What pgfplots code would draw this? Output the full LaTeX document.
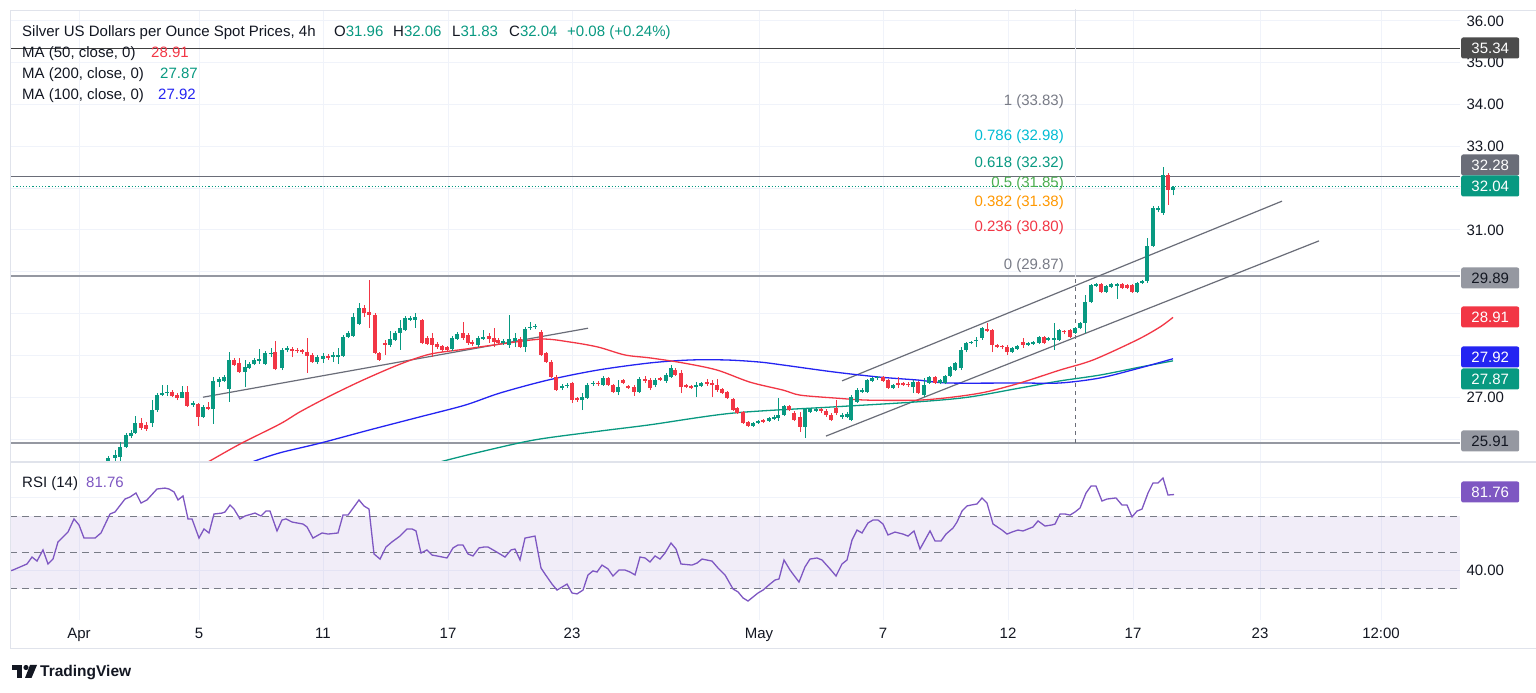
\documentclass[border=0pt]{standalone}
\usepackage{pgfplots}
\usepackage{pgfplotstable}
\pgfplotsset{compat=1.18}
\usepackage{fontspec}
\setmainfont{Liberation Sans}
\definecolor{upc}{HTML}{089981}
\definecolor{dnc}{HTML}{F23645}
\definecolor{txt}{HTML}{131722}
\definecolor{gridc}{HTML}{F0F3FA}
\definecolor{sepc}{HTML}{E0E3EB}
\definecolor{ma50}{HTML}{F23645}
\definecolor{ma100}{HTML}{2424F2}
\definecolor{ma200}{HTML}{089981}
\definecolor{rsic}{HTML}{7E57C2}
\definecolor{levc}{HTML}{787B86}
\definecolor{trendc}{HTML}{6A6D78}
\definecolor{hlgray}{HTML}{9598A1}
\definecolor{fibcyan}{HTML}{00BCD4}
\definecolor{fibgreen}{HTML}{4CAF50}
\definecolor{fiborange}{HTML}{FF9800}
\newcommand{\axf}{\fontsize{15}{18}\selectfont}
\pgfplotsset{
  wick/.style={draw=none, mark=none, forget plot, error bars/.cd, y dir=plus, y explicit, error mark=none, error bar style={draw=#1, solid, line width=1pt}},
  body/.style={draw=none, mark=none, forget plot, error bars/.cd, y dir=plus, y explicit, error mark=none, error bar style={draw=#1, solid, line width=3.6pt}},
}
\pgfplotstableread{
x o h l c
108 25.47 25.59 25.43 25.55
115 25.55 25.74 25.45 25.62
120 25.57 25.93 25.45 25.81
126 25.81 26.14 25.78 26.10
131 26.07 26.22 26.02 26.14
135 26.14 26.55 26.12 26.38
152 26.38 26.93 26.29 26.69
157 26.69 27.10 26.65 27.05
162 27.05 27.29 27.04 27.10
167 27.10 27.29 27.03 27.13
182 26.98 27.27 26.97 27.13
193 26.81 26.91 26.77 26.86
203 26.53 26.81 26.50 26.77
213 26.72 27.48 26.36 27.39
219 27.36 27.48 27.24 27.44
224 27.39 27.53 27.36 27.48
229 27.20 28.08 26.89 27.89
245 27.60 27.89 27.24 27.72
249 27.70 27.84 27.67 27.79
254 27.79 27.94 27.77 27.89
259 27.87 28.15 27.79 27.91
265 27.79 28.11 27.77 28.06
271 28.03 28.18 27.96 28.06
282 27.70 28.18 27.65 28.13
287 28.13 28.23 28.08 28.18
317 27.84 28.01 27.79 27.96
323 27.91 28.06 27.82 27.99
333 27.96 28.08 27.84 28.01
338 27.97 28.18 27.79 28.02
343 27.99 28.49 27.96 28.44
348 28.44 28.58 28.42 28.54
353 28.46 29.01 28.44 28.92
359 28.75 29.25 28.73 29.13
390 28.25 28.58 28.20 28.39
395 28.37 28.58 28.34 28.54
400 28.54 28.85 28.13 28.66
405 28.61 28.94 28.58 28.90
410 28.85 28.94 28.82 28.90
415 28.85 29.01 28.66 28.92
452 28.15 28.46 28.11 28.42
457 28.39 28.56 28.37 28.51
478 28.25 28.46 28.20 28.42
483 28.39 28.61 28.37 28.44
503 28.30 28.39 28.25 28.35
509 28.25 28.97 28.18 28.39
515 28.35 28.54 28.20 28.42
525 28.20 28.68 28.08 28.63
530 28.66 28.80 28.61 28.68
535 28.68 28.75 28.63 28.70
562 27.22 27.32 27.17 27.27
567 27.27 27.34 27.22 27.29
582 26.93 27.10 26.69 27.00
587 26.98 27.34 26.96 27.29
593 27.32 27.39 27.27 27.34
603 27.29 27.51 27.27 27.46
618 27.13 27.41 27.05 27.24
639 27.13 27.48 27.10 27.44
655 27.29 27.46 27.24 27.41
666 27.39 27.58 27.34 27.53
671 27.48 27.77 27.46 27.70
696 27.24 27.36 27.00 27.29
701 27.27 27.36 27.24 27.34
753 26.31 26.41 26.29 26.38
758 26.38 26.45 26.36 26.43
769 26.43 26.53 26.41 26.50
774 26.48 26.57 26.45 26.53
778 26.50 26.98 26.43 26.57
784 26.57 26.81 26.55 26.79
805 26.29 26.74 26.02 26.72
810 26.65 26.74 26.62 26.72
816 26.67 26.77 26.65 26.72
842 26.53 26.62 26.48 26.57
847 26.53 26.65 26.50 26.60
851 26.45 27.05 26.43 27.00
857 26.89 27.22 26.86 27.17
862 27.13 27.22 27.10 27.17
867 27.13 27.44 27.10 27.41
872 27.39 27.48 27.36 27.46
877 27.46 27.51 27.41 27.48
893 27.22 27.32 27.20 27.29
913 27.24 27.41 27.10 27.36
924 27.05 27.46 27.00 27.29
929 27.34 27.51 27.32 27.48
940 27.34 27.44 27.31 27.41
945 27.34 27.53 27.31 27.51
950 27.51 27.75 27.48 27.72
955 27.65 27.84 27.63 27.82
961 27.70 28.20 27.65 28.13
966 28.13 28.32 28.08 28.30
971 28.30 28.35 28.27 28.32
976 28.34 28.44 28.20 28.37
982 28.42 28.68 28.37 28.66
1012 28.08 28.20 28.06 28.18
1017 28.16 28.25 28.13 28.23
1028 28.25 28.32 28.23 28.30
1033 28.27 28.35 28.25 28.32
1039 28.30 28.46 28.27 28.44
1048 28.37 28.44 28.34 28.42
1054 28.37 28.78 28.13 28.42
1059 28.37 28.63 28.35 28.61
1075 28.54 28.68 28.51 28.66
1080 28.66 28.80 28.63 28.78
1085 28.78 29.45 28.54 29.28
1091 29.28 29.71 29.25 29.68
1096 29.66 29.73 29.64 29.71
1106 29.52 29.68 29.49 29.66
1111 29.64 29.73 29.61 29.71
1117 29.66 29.73 29.35 29.71
1137 29.52 29.76 29.49 29.73
1142 29.73 29.80 29.71 29.78
1147 29.78 30.81 29.73 30.62
1153 30.62 31.57 30.59 31.53
1158 31.48 31.57 31.43 31.53
1163 31.41 32.51 31.36 32.31
1173 31.96 32.06 31.83 32.04
}\upt
\pgfplotstableread{
x o h l c
141 26.38 26.50 26.22 26.26
146 26.33 26.40 26.20 26.24
172 27.13 27.17 27.00 27.03
177 27.05 27.10 26.93 26.98
187 27.13 27.27 26.77 26.79
198 26.84 26.86 26.31 26.53
208 26.77 26.89 26.69 26.72
234 27.89 27.94 27.75 27.77
239 27.82 27.94 27.58 27.60
275 28.08 28.34 27.65 27.67
292 28.15 28.20 27.96 28.11
297 28.13 28.18 28.06 28.10
302 28.13 28.15 28.04 28.08
307 28.08 28.42 27.58 27.99
312 28.01 28.06 27.82 27.84
328 27.99 28.03 27.89 27.94
364 29.13 29.21 28.92 29.01
369 29.04 29.80 28.66 28.97
375 28.97 29.01 28.03 28.06
379 28.06 28.08 27.87 27.89
385 28.30 28.37 28.01 28.25
422 28.85 28.87 28.27 28.30
427 28.42 28.46 28.25 28.27
432 28.42 28.54 27.96 28.25
437 28.27 28.32 28.15 28.20
442 28.23 28.25 28.08 28.13
447 28.20 28.23 28.11 28.13
463 28.54 28.80 28.37 28.42
468 28.49 28.54 28.25 28.30
472 28.32 28.37 28.23 28.27
489 28.46 28.54 28.30 28.39
494 28.42 28.66 28.20 28.32
498 28.37 28.42 28.25 28.30
520 28.39 28.44 28.18 28.20
541 28.56 28.61 27.99 28.01
546 28.06 28.08 27.82 27.84
551 27.84 27.89 27.46 27.48
556 27.48 27.53 27.15 27.17
572 27.34 27.36 26.86 26.93
577 26.98 27.00 26.89 26.93
598 27.34 27.39 27.27 27.31
608 27.46 27.48 27.27 27.29
613 27.29 27.32 27.10 27.13
623 27.41 27.44 27.31 27.34
628 27.27 27.29 27.20 27.22
634 27.24 27.29 27.03 27.13
645 27.44 27.51 27.34 27.39
650 27.41 27.46 27.17 27.22
660 27.46 27.48 27.39 27.41
675 27.65 27.70 27.51 27.53
681 27.58 27.65 27.10 27.24
686 27.29 27.32 27.22 27.24
691 27.27 27.29 27.20 27.22
707 27.36 27.44 27.27 27.31
712 27.34 27.41 27.00 27.29
717 27.29 27.44 27.13 27.17
722 27.20 27.22 27.08 27.10
727 27.13 27.15 26.96 26.98
733 26.96 26.98 26.67 26.69
737 26.74 26.77 26.60 26.62
743 26.65 26.67 26.36 26.38
748 26.41 26.43 26.29 26.31
763 26.45 26.48 26.38 26.41
789 26.79 26.81 26.67 26.69
794 26.62 26.67 26.43 26.45
800 26.53 26.65 26.17 26.29
821 26.72 26.74 26.62 26.67
826 26.67 26.72 26.53 26.57
831 26.57 26.62 26.43 26.45
836 26.74 26.93 26.57 26.62
883 27.48 27.51 27.36 27.39
888 27.41 27.44 27.20 27.22
898 27.34 27.48 27.22 27.29
903 27.33 27.36 27.27 27.29
908 27.32 27.36 27.24 27.29
918 27.36 27.39 27.08 27.10
935 27.48 27.51 27.32 27.34
987 28.63 28.77 28.56 28.58
992 28.61 28.63 28.08 28.25
997 28.25 28.27 28.18 28.20
1002 28.23 28.25 28.15 28.20
1007 28.20 28.25 28.01 28.08
1023 28.32 28.42 28.18 28.25
1044 28.44 28.46 28.27 28.30
1064 28.58 28.61 28.51 28.55
1070 28.61 28.63 28.42 28.44
1101 29.71 29.73 29.49 29.52
1122 29.71 29.73 29.59 29.61
1127 29.68 29.71 29.59 29.61
1132 29.68 29.71 29.49 29.52
1168 32.31 32.36 31.60 31.96
}\dnt
\begin{document}
\begin{tikzpicture}
\useasboundingbox (0,0) rectangle (1536pt,693pt);
\fill[white] (0,0) rectangle (1536pt,693pt);
% ---------------- price panel
\begin{axis}[
  at={(10pt,231pt)}, anchor=south west, scale only axis,
  width=1450pt, height=452pt,
  xmin=10, xmax=1460, ymin=25.45, ymax=36.263,
  axis line style={draw=none}, major tick length=0pt,
  xtick={79,199,323,448,572,759,883,1008,1133,1260,1381},
  xticklabels={},
  ytick={26,27,28,29,30,31,32,33,34,35,36},
  yticklabels={,27.00,,,,31.00,,33.00,34.00,35.00,36.00},
  yticklabel pos=right,
  yticklabel style={font=\axf, text=txt, anchor=west, xshift=3pt},
  grid=major, grid style={draw=gridc, line width=1pt},
]
% horizontal levels
\addplot[draw=black!75, line width=1pt] coordinates {(10,35.34) (1460,35.34)};
\addplot[draw=trendc, line width=1pt] coordinates {(10,32.28) (1460,32.28)};
\addplot[draw=hlgray, line width=2.2pt] coordinates {(10,29.89) (1460,29.89)};
\addplot[draw=hlgray, line width=2.2pt] coordinates {(10,25.91) (1460,25.91)};
\addplot[draw=upc, line width=1pt, dash pattern=on 1.2pt off 2pt] coordinates {(10,32.04) (1460,32.04)};
% fib vertical
\addplot[draw=sepc, line width=1pt] coordinates {(1075,29.87) (1075,36.3)};
\addplot[draw=trendc, line width=1pt, dash pattern=on 4pt off 4pt] coordinates {(1075,25.91) (1075,29.87)};
% trend lines
\addplot[draw=trendc, line width=1.2pt] coordinates {(203,27.00) (588,28.65)};
\addplot[draw=trendc, line width=1.2pt] coordinates {(842,27.39) (1282,31.69)};
\addplot[draw=trendc, line width=1.2pt] coordinates {(826,26.07) (1319,30.74)};
% moving averages
\addplot[draw=ma200, line width=1.3pt, smooth] coordinates {
(430,25.35) (440,25.45) (480,25.69) (535,25.98) (600,26.19) (650,26.34) (733,26.62)
(835,26.77) (918,26.89) (968,27.00) (1020,27.22) (1060,27.39) (1100,27.53) (1140,27.72) (1173,27.87)};
\addplot[draw=ma100, line width=1.3pt, smooth] coordinates {
(245,25.35) (252,25.45) (280,25.67) (320,25.90) (370,26.22) (420,26.53) (465,26.81)
(500,27.10) (548,27.41) (598,27.65) (650,27.82) (690,27.89) (727,27.89) (760,27.84)
(783,27.77) (835,27.60) (880,27.48) (918,27.41) (948,27.34) (1020,27.34) (1060,27.34)
(1100,27.46) (1140,27.70) (1173,27.92)};
\addplot[draw=ma50, line width=1.3pt, smooth] coordinates {
(200,25.35) (208,25.45) (240,25.88) (280,26.36) (300,26.65) (330,27.03) (363,27.41)
(400,27.79) (430,28.03) (465,28.15) (500,28.27) (542,28.39) (570,28.32) (598,28.20)
(625,28.01) (650,27.94) (683,27.82) (717,27.65) (750,27.36) (783,27.17) (800,27.05)
(835,26.98) (868,26.93) (918,26.93) (952,27.00) (985,27.12) (1020,27.34) (1060,27.65)
(1093,27.89) (1137,28.37) (1160,28.68) (1173,28.91)};
% candles
\addplot[wick=upc] table[x=x, y=l, y error plus expr=\thisrow{h}-\thisrow{l}] {\upt};
\addplot[body=upc] table[x=x, y=o, y error plus expr=\thisrow{c}-\thisrow{o}] {\upt};
\addplot[wick=dnc] table[x=x, y=l, y error plus expr=\thisrow{h}-\thisrow{l}] {\dnt};
\addplot[body=dnc] table[x=x, y=c, y error plus expr=\thisrow{o}-\thisrow{c}] {\dnt};
\end{axis}
% ---------------- RSI panel
\begin{axis}[
  at={(10pt,73pt)}, anchor=south west, scale only axis,
  width=1450pt, height=158pt,
  xmin=10, xmax=1460, ymin=13, ymax=99.6,
  axis line style={draw=none}, major tick length=0pt,
  xtick={79,199,323,448,572,759,883,1008,1133,1260,1381},
  xticklabels={Apr,5,11,17,23,May,7,12,17,23,12:00},
  xticklabel style={font=\axf, text=txt, anchor=base, yshift=-18pt},
  ytick={40,80}, yticklabels={40.00,},
  yticklabel pos=right,
  yticklabel style={font=\axf, text=txt, anchor=west, xshift=3pt},
  grid=major, grid style={draw=gridc, line width=1pt},
]
\fill[rsic, fill opacity=0.1] (axis cs:10,30) rectangle (axis cs:1460,70);
\addplot[draw=levc, line width=1pt, dash pattern=on 7pt off 5pt] coordinates {(10,70) (1460,70)};
\addplot[draw=levc, line width=1pt, dash pattern=on 7pt off 5pt] coordinates {(10,50) (1460,50)};
\addplot[draw=levc, line width=1pt, dash pattern=on 7pt off 5pt] coordinates {(10,30) (1460,30)};
\addplot[draw=rsic, line width=1.3pt] coordinates {
(10,39.9) (13,40.4) (27,43.7) (32,47.5) (37,45.3) (43,51.4) (48,43.7) (53,46.4) (58,55.8)
(68,61.2) (74,68.4) (79,65.1) (84,57.9) (95,57.9) (101,60.7) (110,71.1) (115,72.2)
(125,79.3) (130,80.4) (136,82.6) (141,77.1) (147,78.8) (157,84.8) (165,85.3) (169,84.8)
(174,83.2) (178,78.8) (183,81.0) (188,68.4) (192,68.4) (199,57.9) (204,62.9) (209,60.7)
(214,71.1) (222,71.6) (225,72.2) (230,76.0) (234,73.8) (240,68.4) (245,70.0) (255,71.6)
(261,70.0) (266,72.7) (270,72.7) (277,61.8) (282,67.8) (286,68.4) (292,66.7) (303,65.6)
(307,64.0) (313,57.9) (322,60.7) (328,60.1) (338,60.7) (343,70.5) (348,70.5) (359,78.8)
(364,75.5) (369,73.8) (374,49.2) (380,46.4) (386,53.0) (392,55.8) (400,59.0) (407,62.9)
(412,62.9) (416,61.8) (421,49.7) (427,51.4) (432,48.6) (437,48.1) (447,47.0) (453,52.5)
(458,54.1) (463,54.1) (468,49.2) (473,48.1) (479,52.5) (484,53.0) (488,53.0) (495,50.8)
(505,47.5) (511,51.4) (515,51.9) (520,45.9) (525,57.9) (535,59.0) (541,41.5) (545,38.2)
(552,32.7) (557,29.4) (567,32.7) (572,27.8) (577,27.3) (583,29.4) (588,37.7) (593,39.9)
(597,39.3) (602,43.1) (608,41.0) (613,37.1) (619,40.4) (625,40.4) (630,39.3) (635,37.7)
(640,47.5) (645,47.0) (650,44.8) (655,48.1) (660,46.4) (665,49.7) (671,55.2) (676,51.9)
(681,43.7) (692,43.1) (697,44.2) (702,46.4) (712,45.3) (718,41.5) (725,37.7) (733,30.0)
(738,28.4) (743,25.1) (748,23.4) (758,27.8) (763,29.4) (770,32.7) (775,34.9) (779,35.5)
(784,45.9) (790,40.4) (799,33.8) (805,42.1) (810,46.4) (817,47.0) (822,45.9) (830,41.0)
(836,37.1) (842,43.7) (847,45.9) (852,56.8) (857,62.3) (862,60.7) (868,66.2) (873,67.8)
(878,67.8) (883,65.6) (888,59.6) (895,61.2) (903,60.1) (908,59.0) (914,61.8) (920,51.9)
(930,61.8) (935,56.3) (941,56.3) (946,60.1) (953,63.4) (957,66.7) (962,72.7) (967,75.5)
(971,76.0) (977,76.6) (982,79.9) (987,77.1) (993,65.6) (1002,62.3) (1007,60.1) (1012,61.2)
(1018,62.3) (1023,61.8) (1033,64.0) (1038,67.3) (1045,64.5) (1052,65.1) (1055,65.6)
(1060,71.1) (1065,71.1) (1070,70.5) (1075,72.2) (1080,74.4) (1086,82.6) (1091,86.4)
(1096,86.4) (1102,78.2) (1107,79.3) (1116,79.9) (1122,76.0) (1127,76.0) (1132,69.5)
(1137,72.7) (1142,73.8) (1148,82.6) (1153,88.1) (1158,88.1) (1163,90.8) (1168,81.5) (1174,81.76)};
\end{axis}
% ---------------- overlay in image pixel coordinates
\begin{scope}[shift={(0pt,693pt)}, x=1pt, y=-1pt]
\draw[sepc, line width=1pt] (10.5,10.5) -- (1536,10.5);
\draw[sepc, line width=1pt] (10.5,10.5) -- (10.5,648.5) -- (1536,648.5);
\draw[sepc, line width=1.5pt] (10.5,462) -- (1536,462);
\tikzset{lab/.style={anchor=base west, inner sep=0pt, font=\axf, text=txt},
         fib/.style={anchor=base east, inner sep=0pt, font=\axf},
         tag/.style={anchor=west, minimum width=58pt, minimum height=21pt, inner sep=0pt, rounded corners=2pt, font=\axf, text=white}}
% header
\node[lab] at (22,37) {Silver US Dollars per Ounce Spot Prices, 4h};
\node[lab] at (334,37) {O\textcolor{upc}{31.96}};
\node[lab] at (393,37) {H\textcolor{upc}{32.06}};
\node[lab] at (452,37) {L\textcolor{upc}{31.83}};
\node[lab] at (509,37) {C\textcolor{upc}{32.04}};
\node[lab, text=upc] at (567,37) {+0.08 (+0.24\%)};
\node[lab] at (22,58) {MA (50, close, 0)};
\node[lab, text=ma50] at (151,58) {28.91};
\node[lab] at (22,79) {MA (200, close, 0)};
\node[lab, text=ma200] at (160,79) {27.87};
\node[lab] at (22,100) {MA (100, close, 0)};
\node[lab, text=ma100] at (158,100) {27.92};
\node[lab] at (22,488) {RSI (14)};
\node[lab, text=rsic] at (86,488) {81.76};
% fib labels
\node[fib, text=levc] at (1064,106) {1 (33.83)};
\node[fib, text=fibcyan] at (1064,141) {0.786 (32.98)};
\node[fib, text=upc] at (1064,168) {0.618 (32.32)};
\node[fib, text=fibgreen] at (1064,188) {0.5 (31.85)};
\node[fib, text=fiborange] at (1064,207) {0.382 (31.38)};
\node[fib, text=dnc] at (1064,232) {0.236 (30.80)};
\node[fib, text=levc] at (1064,270) {0 (29.87)};
% price scale tags
\node[tag, fill=black!70] at (1461,48) {35.34};
\node[tag, fill=trendc] at (1461,165) {32.28};
\node[tag, fill=upc] at (1461,186) {32.04};
\node[tag, fill=hlgray, text=txt] at (1461,278) {29.89};
\node[tag, fill=dnc] at (1461,317) {28.91};
\node[tag, fill=ma100] at (1461,357) {27.92};
\node[tag, fill=upc] at (1461,379) {27.87};
\node[tag, fill=hlgray, text=txt] at (1461,441) {25.91};
\node[tag, fill=rsic] at (1461,492) {81.76};
% logo
\fill[txt] (12,665) rectangle (22,670);
\fill[txt] (17,665) rectangle (22,678);
\fill[txt] (26,667.5) circle (2.6);
\fill[txt] (30,665) -- (37,665) -- (31.5,678) -- (25,678) -- cycle;
\node[anchor=base west, inner sep=0pt, text=txt, font=\fontsize{15.5}{18}\selectfont\bfseries] at (40,677) {TradingView};
\end{scope}
\end{tikzpicture}
\end{document}
